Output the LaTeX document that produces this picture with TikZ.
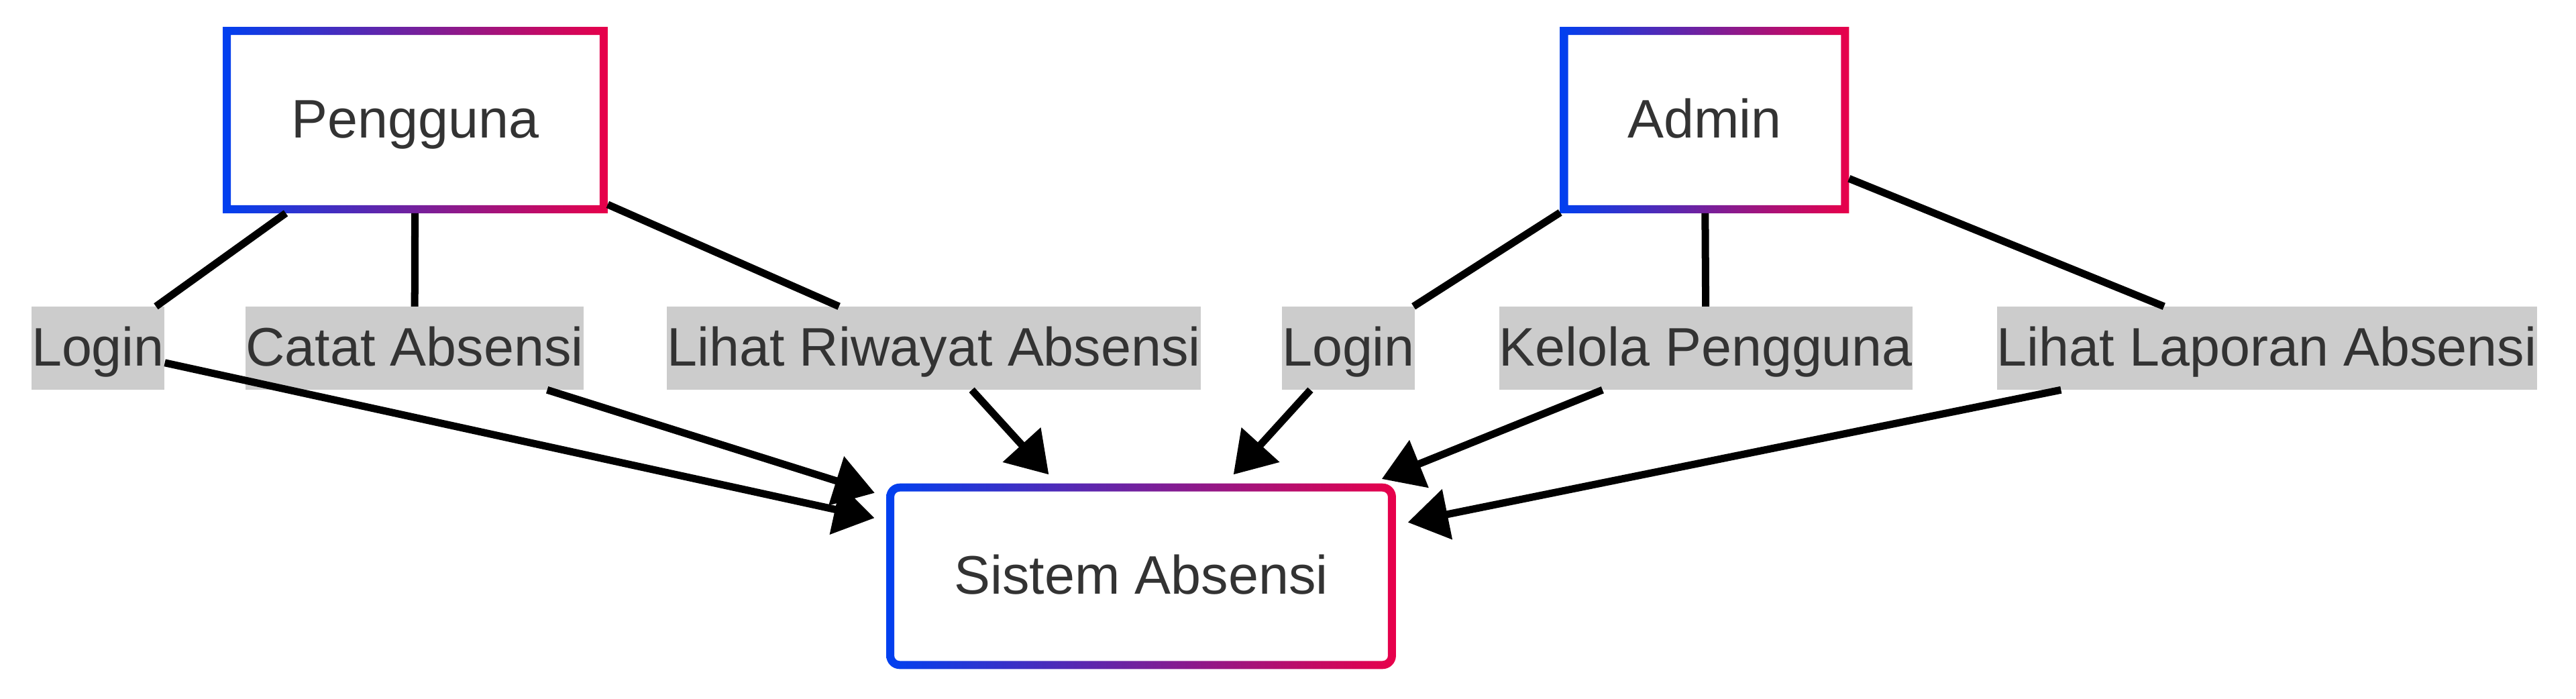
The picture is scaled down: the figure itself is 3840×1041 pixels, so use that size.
\documentclass[tikz,border=0pt]{standalone}
\usepackage{fontspec}
\setmainfont{Liberation Sans}
\usetikzlibrary{arrows.meta}
\definecolor{frameblue}{HTML}{0040F0}
\definecolor{framered}{HTML}{E8004A}
\definecolor{labelgray}{HTML}{CCCCCC}
\definecolor{textgray}{HTML}{333333}
\newcommand{\diagfont}{\fontsize{23pt}{28pt}\selectfont}
% gradient border: node, outer radius, inner radius
\newcommand{\gradframe}[3]{%
  \shade[left color=frameblue, right color=framered, even odd rule]
    [rounded corners=#2] (#1.south west) rectangle (#1.north east)
    [rounded corners=#3] ([shift={(0.12cm,0.12cm)}]#1.south west) rectangle ([shift={(-0.12cm,-0.12cm)}]#1.north east);}

\begin{document}
\begin{tikzpicture}[x=0.01cm, y=-0.01cm,
    entity/.style={fill=white, inner sep=0pt, minimum height=2.76cm,
                   text height=0.62cm, text depth=0.09cm,
                   text=textgray, font=\diagfont},
    edgelabel/.style={fill=labelgray, inner xsep=0pt, inner ysep=0pt,
                      minimum height=1.23cm, text height=0.62cm, text depth=0.09cm,
                      text=textgray, font=\diagfont},
    link/.style={line width=0.11cm, black},
    arr/.style={link, -{Triangle[length=0.6cm, width=0.74cm]}, shorten >=0.18cm}
  ]
  \useasboundingbox (0,0) rectangle (3840,1041);

  % actors and system
  \node[entity, minimum width=5.72cm] (pengguna) at (619,179) {Pengguna};
  \node[entity, minimum width=4.29cm] (admin) at (2541,179) {Admin};
  \node[entity, minimum width=7.58cm, minimum height=2.75cm, rounded corners=0.2cm] (sistem) at (1701,859) {Sistem Absensi};
  \gradframe{pengguna}{0pt}{0pt}
  \gradframe{admin}{0pt}{0pt}
  \gradframe{sistem}{0.2cm}{0.08cm}

  % edge labels
  \node[edgelabel] (login1) at (146,519) {Login};
  \node[edgelabel] (catat) at (618,519) {Catat Absensi};
  \node[edgelabel] (riwayat) at (1392,519) {Lihat Riwayat Absensi};
  \node[edgelabel] (login2) at (2010,519) {Login};
  \node[edgelabel] (kelola) at (2543,519) {Kelola Pengguna};
  \node[edgelabel] (laporan) at (3379,519) {Lihat Laporan Absensi};

  \draw[link] (pengguna) -- (login1);
  \draw[link] (pengguna) -- (catat);
  \draw[link] (pengguna) -- (riwayat);
  \draw[link] (admin) -- (login2);
  \draw[link] (admin) -- (kelola);
  \draw[link] (admin) -- (laporan);

  \draw[arr] (login1) -- (sistem);
  \draw[arr] (catat) -- (sistem);
  \draw[arr] (riwayat) -- (sistem);
  \draw[arr] (login2) -- (sistem);
  \draw[arr] (kelola) -- (sistem);
  \draw[arr] (laporan) -- (sistem);
\end{tikzpicture}
\end{document}
